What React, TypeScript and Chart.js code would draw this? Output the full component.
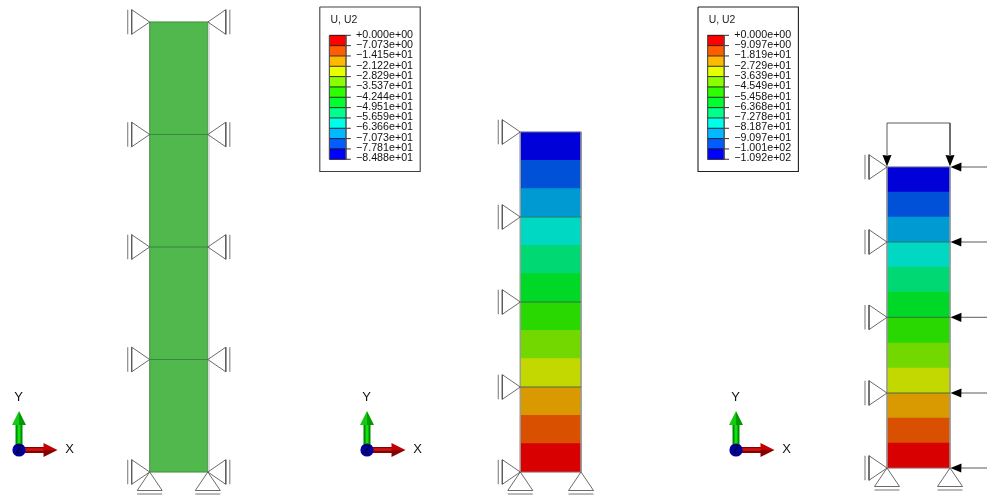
import React, { useEffect, useRef } from "react";
import { Chart, registerables } from "chart.js";

Chart.register(...registerables);

// Legend levels (U, U2) as printed in the two contour legends
const legendLabelsA = ["+0.000e+00","−7.073e+00","−1.415e+01","−2.122e+01","−2.829e+01","−3.537e+01","−4.244e+01","−4.951e+01","−5.659e+01","−6.366e+01","−7.073e+01","−7.781e+01","−8.488e+01"];
const legendLabelsB = ["+0.000e+00","−9.097e+00","−1.819e+01","−2.729e+01","−3.639e+01","−4.549e+01","−5.458e+01","−6.368e+01","−7.278e+01","−8.187e+01","−9.097e+01","−1.001e+02","−1.092e+02"];
const legendColors = ["#ff0000","#ff5d00","#ffb900","#e8ff00","#8bff00","#2eff00","#00ff2e","#00ff8b","#00ffe8","#00b9ff","#005dff","#0000ff"];
const contourColors = ["#0000d8","#0050d8","#009ad2","#00d8c3","#00d873","#00d828","#28d800","#73d800","#c3d800","#d89a00","#d85000","#d80000"];
const meshColor = ["#50b84c"];

// Column edges
const meshEdges = [22, 134.5, 247, 359.5, 472];
const bandEdgesB = [132, 160.3, 188.7, 217, 245.3, 273.7, 302, 330.3, 358.7, 387, 415.3, 443.7, 472];
const bandEdgesC = [167, 192, 217, 242, 267, 292, 317.3, 343, 368, 393, 418, 443, 468];
const nodesB = [132, 217, 302, 387, 472];
const nodesC = [167, 242, 317.3, 393, 468];

type Pt = { x: number; y: number };
const GREY = "#5a5a5a";
const PALE = "#8c8c8c";

function App() {
  const ref = useRef<HTMLCanvasElement>(null);
  useEffect(() => {
    const ds: any[] = [];
    const line = (pts: Pt[], color = GREY, width = 1) =>
      ds.push({ type: "scatter", showLine: true, data: pts, borderColor: color, borderWidth: width, pointRadius: 0, fill: false, clip: false, tension: 0 });
    const poly = (pts: Pt[], color: string) =>
      ds.push({ type: "scatter", showLine: true, data: [...pts, pts[0]], borderColor: color, borderWidth: 0, backgroundColor: color, pointRadius: 0, fill: "shape", clip: false, tension: 0 });
    const bars = (cx: number, width: number, edges: number[], colors: string[]) =>
      ds.push({ type: "bar", data: colors.map((_, i) => ({ x: cx, y: [edges[i], edges[i + 1]] })), backgroundColor: colors, borderWidth: 0, barThickness: width, grouped: false, clip: false });

    // Sideways roller: apex at the node, base and rail toward dir
    const sideSupport = (x: number, y: number, dir: number) => {
      line([{ x, y }, { x: x + dir * 18, y: y - 12.3 }, { x: x + dir * 18, y: y + 12.3 }, { x, y }], GREY, 0.9);
      line([{ x: x + dir * 22, y: y - 12.3 }, { x: x + dir * 22, y: y + 12.3 }], PALE, 1.2);
    };
    const bottomSupport = (x: number, y: number) => {
      line([{ x, y }, { x: x - 12.5, y: y + 18.5 }, { x: x + 12.5, y: y + 18.5 }, { x, y }], GREY, 0.9);
      line([{ x: x - 12.5, y: y + 22 }, { x: x + 12.5, y: y + 22 }], PALE, 1.2);
    };
    const outline = (l: number, r: number, t: number, b: number, side: string, cap: string) => {
      line([{ x: l, y: t }, { x: l, y: b }], side, 0.8);
      line([{ x: r, y: t }, { x: r, y: b }], side, 0.8);
      line([{ x: l, y: t }, { x: r, y: t }], cap, 0.8);
      line([{ x: l, y: b }, { x: r, y: b }], cap, 0.8);
    };
    const nodeLines = (l: number, r: number, ys: number[], color: string) =>
      ys.forEach((y) => line([{ x: l, y }, { x: r, y }], color, 0.8));

    // Panel A: undeformed mesh
    bars(178.8, 58, meshEdges, [meshColor[0], meshColor[0], meshColor[0], meshColor[0]]);
    outline(149.7, 207.8, 22, 472, "#5f9a5f", "#3f8040");
    nodeLines(149.7, 207.8, meshEdges.slice(1, -1), "#2f7a38");
    line([{ x: 209, y: 22 }, { x: 209, y: 472 }], "#dcdcdc", 1);
    meshEdges.forEach((y) => { sideSupport(149.7, y, -1); sideSupport(207.8, y, 1); });
    bottomSupport(149.7, 472); bottomSupport(207.8, 472);

    // Panel B: contour without top load
    bars(550.7, 61, bandEdgesB, contourColors);
    outline(520.3, 581, 132, 472, "#9a9a9a", "#808080");
    nodeLines(520.3, 581, nodesB.slice(1, -1), "#2f5f50");
    nodesB.forEach((y) => sideSupport(520.3, y, -1));
    bottomSupport(520.3, 472); bottomSupport(581, 472);

    // Panel C: contour with loads
    bars(918.5, 63, bandEdgesC, contourColors);
    outline(887, 950, 167, 468, "#9a9a9a", "#808080");
    nodeLines(887, 950, nodesC.slice(1, -1), "#2f5f50");
    nodesC.forEach((y) => {
      sideSupport(887, y, -1);
      line([{ x: 960, y }, { x: 987, y }], GREY, 1);
      poly([{ x: 950.5, y }, { x: 961.5, y: y - 4.6 }, { x: 961, y }, { x: 961.5, y: y + 4.6 }], "#000000");
    });
    bottomSupport(887, 468); bottomSupport(950, 468);
    line([{ x: 887, y: 155 }, { x: 887, y: 123 }, { x: 950, y: 123 }, { x: 950, y: 155 }], GREY, 1);
    [887, 950].forEach((x) =>
      poly([{ x, y: 166.5 }, { x: x - 4.5, y: 155 }, { x, y: 155.5 }, { x: x + 4.5, y: 155 }], "#000000"));

    // Triads
    [19, 367, 736].forEach((x0) => {
      const y0 = 450;
      line([{ x: x0, y: y0 }, { x: x0, y: 424 }], "#008c00", 7);
      line([{ x: x0, y: y0 }, { x: x0, y: 424 }], "#12e012", 3);
      poly([{ x: x0, y: 411 }, { x: x0 - 7, y: 425 }, { x: x0, y: 425 }], "#14c814");
      poly([{ x: x0, y: 411 }, { x: x0 + 7, y: 425 }, { x: x0, y: 425 }], "#009a00");
      line([{ x: x0, y: y0 }, { x: x0 + 26, y: y0 }], "#8a0000", 6);
      line([{ x: x0, y: y0 - 0.5 }, { x: x0 + 26, y: y0 - 0.5 }], "#d01414", 2.5);
      poly([{ x: x0 + 38.5, y: y0 }, { x: x0 + 24.5, y: y0 - 7 }, { x: x0 + 24.5, y: y0 }], "#c40000");
      poly([{ x: x0 + 38.5, y: y0 }, { x: x0 + 24.5, y: y0 + 7 }, { x: x0 + 24.5, y: y0 }], "#860000");
      ds.push({ type: "scatter", data: [{ x: x0, y: y0 }], pointRadius: 6.6, pointBackgroundColor: "#0000a0", pointBorderColor: "#0000a0", pointBorderWidth: 0, clip: false });
    });

    // Contour legends
    const legendEdges = Array.from({ length: 13 }, (_, i) => 35.3 + i * 10.33);
    [319.8, 698].forEach((bx, k) => {
      const w = 100.4;
      bars(bx + 18, 16.4, legendEdges, legendColors);
      legendEdges.forEach((y) => line([{ x: bx + 9.6, y }, { x: bx + 31, y }], "#1a1a1a", 0.9));
      line([{ x: bx + 9.6, y: 35.3 }, { x: bx + 9.6, y: 159.3 }], "#505050", 0.7);
      line([{ x: bx + 26.2, y: 35.3 }, { x: bx + 26.2, y: 159.3 }], "#505050", 0.7);
      line([{ x: bx, y: 7 }, { x: bx + w, y: 7 }, { x: bx + w, y: 171.5 }, { x: bx, y: 171.5 }, { x: bx, y: 7 }], k === 0 ? "#404040" : "#202020", 1.1);
    });

    ds.forEach((d, i) => { d.order = -i; });

    const textPlugin = {
      id: "labels",
      afterDatasetsDraw(chart: any) {
        const { ctx, scales } = chart;
        const put = (s: string, x: number, y: number, size: number, align: CanvasTextAlign = "left", color = "#000") => {
          ctx.save();
          ctx.font = `${size}px "Liberation Sans"`;
          ctx.fillStyle = color;
          ctx.textAlign = align;
          ctx.textBaseline = "middle";
          ctx.fillText(s, scales.x.getPixelForValue(x), scales.y.getPixelForValue(y));
          ctx.restore();
        };
        [{ bx: 319.8, labels: legendLabelsA }, { bx: 698, labels: legendLabelsB }].forEach(({ bx, labels }) => {
          put("U, U2", bx + 10.8, 20, 10.4, "left", "#1a1a1a");
          labels.forEach((s, i) => put(s, bx + 36.2, 35 + i * 10.27, 10.7, "left", "#111"));
        });
        [19, 367, 736].forEach((x0) => {
          put("Y", x0 - 0.5, 397.5, 13, "center", "#111");
          put("X", x0 + 50.5, 449.5, 13, "center", "#111");
          put("Z", x0, 450, 11, "center", "#000");
        });
      },
    };

    const chart = new Chart(ref.current!, {
      data: { datasets: ds },
      options: {
        animation: false,
        responsive: false,
        layout: { padding: 0, autoPadding: false },
        plugins: { legend: { display: false }, tooltip: { enabled: false }, title: { display: false } },
        scales: {
          x: { type: "linear", min: 0, max: 987, display: false, offset: false },
          y: { type: "linear", min: 0, max: 495, reverse: true, display: false },
        },
      } as any,
      plugins: [textPlugin],
    } as any);
    return () => chart.destroy();
  }, []);
  return (
    <div style={{ position: "fixed", left: 0, top: 0, width: 987, height: 495, background: "#fff" }}>
      <canvas ref={ref} width={987} height={495} style={{ display: "block", width: 987, height: 495 }} />
    </div>
  );
}

export default App;
